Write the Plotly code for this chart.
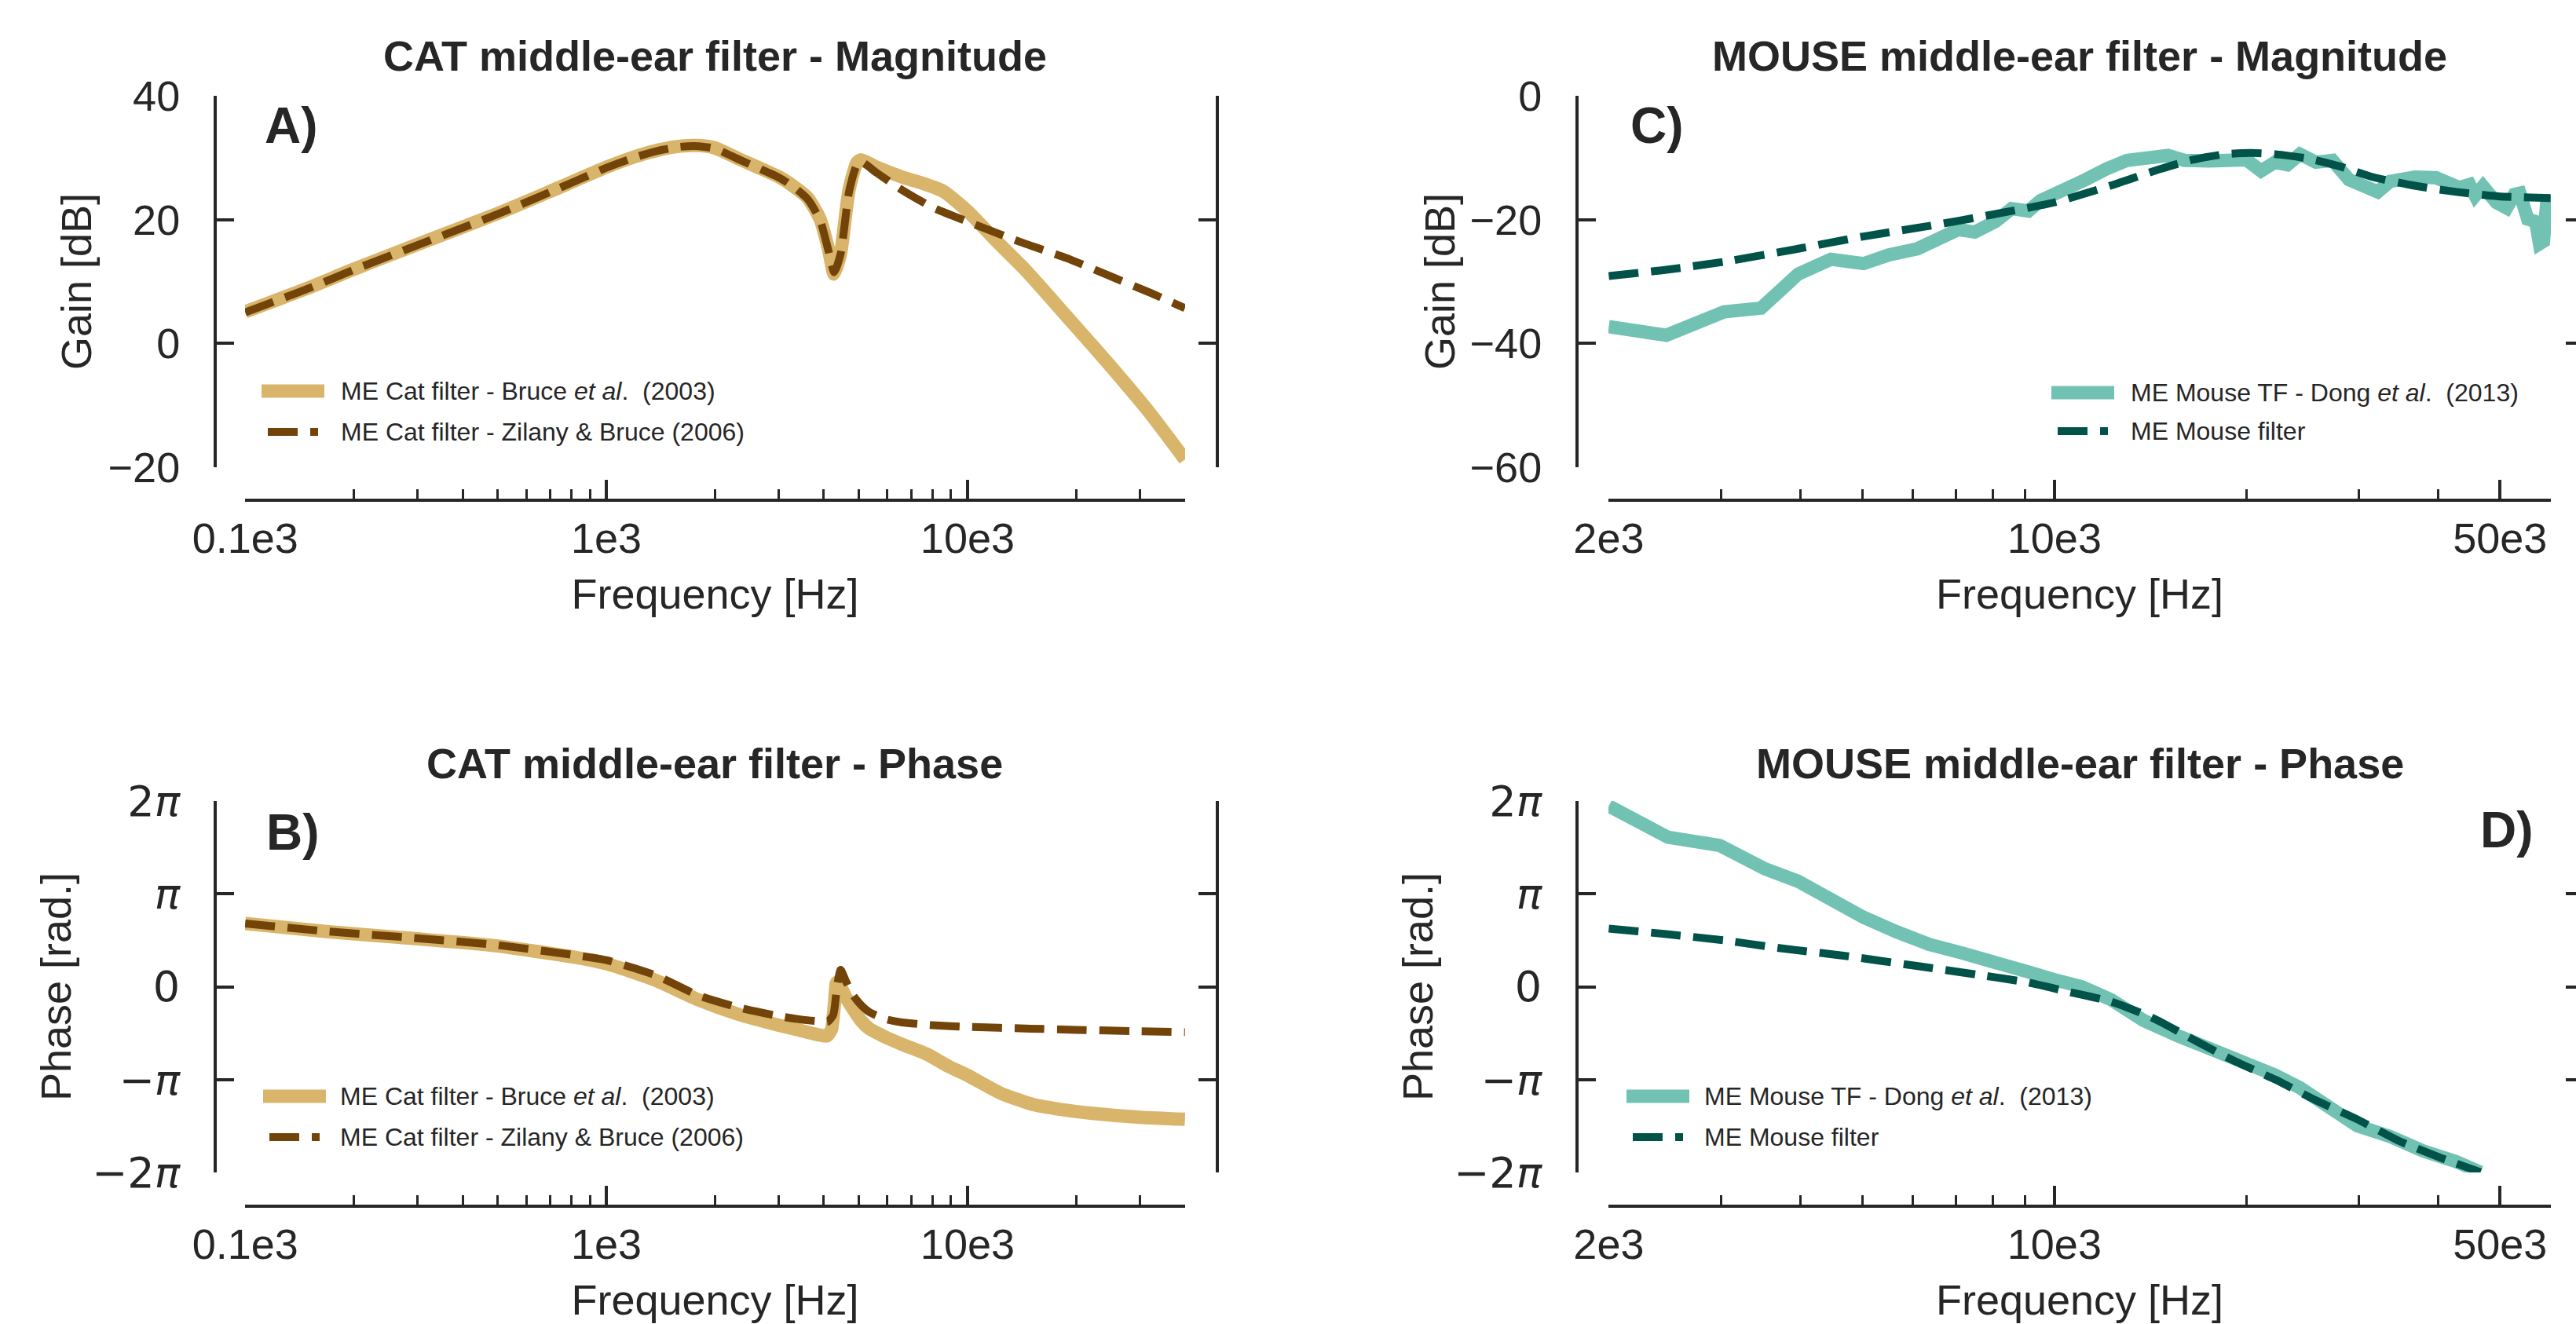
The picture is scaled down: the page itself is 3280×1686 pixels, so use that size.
import math
import plotly.graph_objects as go

W, H = 3280, 1686
PI = math.pi

# ---------------- data ----------------
# CAT magnitude (dB)
cat_bruce_mag_f = [100, 150, 200, 300, 500, 700, 1000, 1200, 1400, 1600, 1800, 2000, 2317, 2600,
                   3013, 3300, 3613, 3907, 4120, 4274, 4454, 4698, 4946, 5072, 5600, 6590, 7600,
                   8570, 10000, 12000, 14500, 18800, 24400, 31700, 40000]
cat_bruce_mag = [5.1, 9.0, 12.0, 16.0, 21.0, 24.6, 28.5, 30.2, 31.3, 31.9, 32.0, 31.6, 29.9, 28.6,
                 26.9, 25.4, 23.5, 20.1, 15.3, 11.2, 14.6, 24.8, 29.3, 29.7, 28.5, 26.9, 25.8,
                 24.6, 21.4, 16.6, 11.8, 4.4, -3.1, -11.0, -18.8]

cat_zb_mag_f = [100, 150, 200, 300, 500, 700, 1000, 1200, 1400, 1600, 1800, 2000, 2317, 2600,
                3013, 3300, 3613, 3907, 4120, 4274, 4454, 4698, 4946, 5072, 5600, 6590, 8000,
                10000, 14000, 18800, 25000, 32000, 40000]
cat_zb_mag = [5.0, 8.9, 11.9, 15.9, 20.9, 24.5, 28.4, 30.1, 31.2, 31.8, 31.9, 31.5, 29.8, 28.5,
              26.8, 25.3, 23.3, 19.9, 15.0, 11.5, 14.5, 24.5, 29.0, 29.4, 27.6, 24.8, 22.0,
              19.7, 16.4, 13.8, 10.8, 8.2, 5.7]

# CAT phase (rad)
cat_bruce_ph_f = [100, 170, 287, 484, 815, 1000, 1374, 1786, 2317, 3013, 3500, 3907, 4080, 4200,
                  4280, 4345, 4454, 4600, 4818, 5072, 5346, 5937, 6590, 7710, 8800, 10000, 12330,
                  15200, 18000, 21900, 30000, 40000]
cat_bruce_ph = [2.14, 1.86, 1.64, 1.40, 1.00, 0.78, 0.21, -0.43, -0.93, -1.31, -1.50, -1.64, -1.67,
                -1.45, -0.60, 0.15, 0.0, -0.35, -0.75, -1.15, -1.42, -1.71, -1.95, -2.28, -2.68,
                -3.00, -3.60, -3.99, -4.15, -4.28, -4.42, -4.49]

cat_zb_ph_f = [100, 170, 287, 484, 815, 1000, 1374, 1786, 2317, 3013, 3500, 3907, 4100, 4250,
               4350, 4454, 4600, 4818, 5072, 5346, 5937, 6590, 8000, 10000, 15000, 20000, 30000,
               40000]
cat_zb_ph = [2.14, 1.87, 1.66, 1.43, 1.07, 0.90, 0.38, -0.28, -0.70, -1.00, -1.12, -1.17, -1.19,
             -0.95, 0.0, 0.57, 0.20, -0.28, -0.62, -0.86, -1.10, -1.21, -1.30, -1.36, -1.42,
             -1.46, -1.51, -1.54]

# MOUSE magnitude (dB)
mouse_dong_mag_f = [2000, 2462, 3033, 3467, 3963, 4460, 5020, 5495, 6095, 6565, 7070, 7500, 8080,
                    8570, 9100, 9510, 10240, 11200, 12060, 13000, 15070, 15990, 17490, 19100,
                    20000, 21090, 22180, 23190, 24270, 25720, 27300, 28960, 30740, 32140, 33600,
                    36750, 39650, 41590, 43150, 44780, 45700, 47000, 49330, 51200, 52670, 53700,
                    55250, 56850, 57650, 58490, 59330]
mouse_dong_mag = [-37.3, -38.7, -34.9, -34.3, -28.8, -26.4, -27.1, -25.7, -24.7, -23.4, -21.6,
                  -22.0, -20.3, -18.2, -18.6, -16.9, -15.5, -13.5, -11.8, -10.4, -9.6, -10.4,
                  -10.5, -10.7, -10.3, -12.1, -10.7, -11.1, -9.4, -10.7, -10.4, -13.5, -14.5,
                  -15.5, -13.8, -13.1, -13.2, -14.1, -14.8, -14.3, -16.1, -14.6, -17.2, -18.1,
                  -15.9, -15.7, -19.9, -20.3, -23.9, -23.5, -15.9]

mouse_filt_mag_f = [2000, 2462, 3033, 3963, 5020, 6370, 7870, 10000, 12230, 14650, 16480, 18530,
                    20370, 22180, 24990, 28100, 31600, 36750, 42700, 49600, 60000]
mouse_filt_mag = [-29.1, -28.1, -26.8, -24.7, -22.7, -21.0, -19.3, -17.2, -14.5, -11.8, -10.3,
                  -9.4, -9.2, -9.4, -10.1, -11.4, -13.1, -14.5, -15.5, -16.2, -16.5]

# MOUSE phase (rad)
mouse_dong_ph_f = [2000, 2254, 2477, 2987, 3518, 3963, 4460, 5020, 5654, 6365, 7170, 8080, 9100,
                   10100, 11040, 12250, 13800, 15530, 17490, 19700, 22180, 24270, 26500, 29850,
                   33600, 37850, 42650, 46600]
mouse_dong_ph = [6.12, 5.56, 5.06, 4.78, 3.99, 3.57, 2.93, 2.35, 1.86, 1.43, 1.14, 0.86, 0.50,
                 0.21, 0.0, -0.43, -1.14, -1.64, -2.07, -2.57, -2.99, -3.42, -3.99, -4.71, -5.07,
                 -5.56, -5.92, -6.28]

mouse_filt_ph_f = [2000, 2462, 3033, 3700, 4750, 6050, 7620, 9100, 10360, 12250, 14300, 16480,
                   19100, 22180, 25720, 29850, 34630, 40200, 46600]
mouse_filt_ph = [1.97, 1.78, 1.57, 1.31, 1.03, 0.71, 0.40, 0.14, -0.14, -0.50, -1.07, -1.78,
                 -2.50, -3.14, -3.85, -4.49, -5.21, -5.78, -6.28]

# tick definitions
cat_xticks = [100, 1000, 10000]
cat_xticktext = ["0.1e3", "1e3", "10e3"]
cat_xminor = [200, 300, 400, 500, 600, 700, 800, 900, 2000, 3000, 4000, 5000, 6000, 7000, 8000,
              9000, 20000, 30000, 40000]
mouse_xticks = [2000, 10000, 50000]
mouse_xticktext = ["2e3", "10e3", "50e3"]
mouse_xminor = [3000, 4000, 5000, 6000, 7000, 8000, 9000, 20000, 30000, 40000, 60000]

cat_gain_ticks = [-20, 0, 20, 40]
cat_gain_text = ["\u221220", "0", "20", "40"]
mouse_gain_ticks = [-60, -40, -20, 0]
mouse_gain_text = ["\u221260", "\u221240", "\u221220", "0"]
phase_ticks = [-2 * PI, -PI, 0, PI, 2 * PI]
phase_text = ["\u22122<i>\u03c0</i>", "\u2212<i>\u03c0</i>", "0", "<i>\u03c0</i>", "2<i>\u03c0</i>"]

# ---------------- style ----------------
TXT = "#262626"
TAN = "#D9B56B"
BROWN = "#734409"
TEAL = "#72C2B4"
DKGREEN = "#01534A"
SANS = "Liberation Sans, Arial, sans-serif"
MATH = "DejaVu Sans, sans-serif"
FS = 54
DASH = "38px,16px"


def PX(x):
    return x / W


def PY(y):
    return 1 - y / H


fig = go.Figure()

panels = [
    dict(key="A", xa="x", ya="y", yr="y5", x0=312, x1=1509, yt=122, yb=595, ls=274, rs=1550, bs=637),
    dict(key="B", xa="x2", ya="y2", yr="y6", x0=312, x1=1509, yt=1020, yb=1493, ls=274, rs=1550, bs=1536),
    dict(key="C", xa="x3", ya="y3", yr="y7", x0=2048, x1=3248, yt=122, yb=595, ls=2008, rs=None, bs=637),
    dict(key="D", xa="x4", ya="y4", yr="y8", x0=2048, x1=3248, yt=1020, yb=1493, ls=2008, rs=None, bs=1536),
]

series = {
    "A": [(cat_bruce_mag_f, cat_bruce_mag, TAN, 17, "solid", "spline"),
          (cat_zb_mag_f, cat_zb_mag, BROWN, 10, DASH, "spline")],
    "B": [(cat_bruce_ph_f, cat_bruce_ph, TAN, 17, "solid", "spline"),
          (cat_zb_ph_f, cat_zb_ph, BROWN, 10, DASH, "spline")],
    "C": [(mouse_dong_mag_f, mouse_dong_mag, TEAL, 17, "solid", "linear"),
          (mouse_filt_mag_f, mouse_filt_mag, DKGREEN, 10, DASH, "spline")],
    "D": [(mouse_dong_ph_f, mouse_dong_ph, TEAL, 17, "solid", "linear"),
          (mouse_filt_ph_f, mouse_filt_ph, DKGREEN, 10, DASH, "spline")],
}

for p in panels:
    (f1, v1, c1, w1, d1, s1), (f2, v2, c2, w2, d2, s2) = series[p["key"]]
    fig.add_trace(go.Scatter(x=f1, y=v1, xaxis=p["xa"], yaxis=p["ya"], mode="lines",
                             line=dict(color=c1, width=w1, dash=d1, shape=s1, smoothing=0.6),
                             showlegend=False, hoverinfo="skip"))
    fig.add_trace(go.Scatter(x=f2, y=v2, xaxis=p["xa"], yaxis=p["yr"], mode="lines",
                             line=dict(color=c2, width=w2, dash=d2, shape=s2, smoothing=0.6),
                             showlegend=False, hoverinfo="skip"))

layout = dict(
    template="none",
    width=W, height=H, autosize=False,
    margin=dict(l=0, r=0, t=0, b=0, pad=0, autoexpand=False),
    paper_bgcolor="white", plot_bgcolor="white",
    font=dict(family=SANS, size=FS, color=TXT),
    showlegend=False,
)


def xaxis_cfg(p, is_cat):
    eps = 0.0005
    if is_cat:
        rng = [math.log10(100) - eps, math.log10(40000) + eps]
        tv, tt, mv = cat_xticks, cat_xticktext, cat_xminor
    else:
        rng = [math.log10(2000) - eps, math.log10(60000) + eps]
        tv, tt, mv = mouse_xticks, mouse_xticktext, mouse_xminor
    return dict(
        type="log", range=rng, domain=[PX(p["x0"]), PX(p["x1"])],
        anchor="free", position=PY(p["bs"]), automargin=False,
        tickmode="array", tickvals=tv, ticktext=tt,
        ticks="inside", ticklen=24, tickwidth=4, tickcolor=TXT,
        minor=dict(tickmode="array", tickvals=mv, ticks="inside", ticklen=12, tickwidth=3,
                   tickcolor=TXT, showgrid=False),
        showline=True, linewidth=4, linecolor=TXT, showgrid=False, zeroline=False,
        tickfont=dict(family=SANS, size=FS, color=TXT), ticklabelstandoff=0,
        title=dict(text="Frequency [Hz]", font=dict(family=SANS, size=FS, color=TXT), standoff=22),
        fixedrange=True,
    )


def yaxis_cfg(p, kind):
    if kind == "catgain":
        rng, tv, tt, fam = [-20.05, 40.05], cat_gain_ticks, cat_gain_text, SANS
        title, so = "Gain [dB]", 3
    elif kind == "mousegain":
        rng, tv, tt, fam = [-60.05, 0.05], mouse_gain_ticks, mouse_gain_text, SANS
        title, so = "Gain [dB]", 1
    else:
        rng, tv, tt, fam = [-2 * PI - 0.005, 2 * PI + 0.005], phase_ticks, phase_text, MATH
        title, so = "Phase [rad.]", 8
    left = dict(
        range=rng, domain=[PY(p["yb"]), PY(p["yt"])], anchor="free", position=PX(p["ls"]),
        automargin=False,
        tickmode="array", tickvals=tv, ticktext=tt,
        ticks="inside", ticklen=22, tickwidth=4, tickcolor=TXT,
        showline=True, linewidth=4, linecolor=TXT, showgrid=False, zeroline=False,
        tickfont=dict(family=fam, size=FS, color=TXT), ticklabelstandoff=32,
        title=dict(text=title, font=dict(family=SANS, size=FS, color=TXT), standoff=so),
        fixedrange=True,
    )
    right = dict(
        range=rng, overlaying=p["ya"], side="right", anchor="free",
        position=PX(p["rs"]) if p["rs"] else 1.0, automargin=False,
        tickmode="array", tickvals=tv, showticklabels=False,
        ticks="inside", ticklen=22 if p["rs"] else 13, tickwidth=4, tickcolor=TXT,
        showline=bool(p["rs"]), linewidth=4, linecolor=TXT, showgrid=False, zeroline=False,
        fixedrange=True,
    )
    return left, right


kinds = {"A": "catgain", "B": "phase", "C": "mousegain", "D": "phase"}
for p in panels:
    xname = "xaxis" + p["xa"][1:]
    yname = "yaxis" + p["ya"][1:]
    rname = "yaxis" + p["yr"][1:]
    layout[xname] = xaxis_cfg(p, p["key"] in ("A", "B"))
    l, r = yaxis_cfg(p, kinds[p["key"]])
    layout[yname] = l
    layout[rname] = r

fig.update_layout(**layout)

titles = [
    ("CAT middle-ear filter - Magnitude", 910, 71),
    ("MOUSE middle-ear filter - Magnitude", 2648, 71),
    ("CAT middle-ear filter - Phase", 910, 972),
    ("MOUSE middle-ear filter - Phase", 2648, 972),
]
for t, x, y in titles:
    fig.add_annotation(text="<b>%s</b>" % t, x=PX(x), y=PY(y), xref="paper", yref="paper",
                       xanchor="center", yanchor="middle", showarrow=False,
                       font=dict(family=SANS, size=FS, color=TXT))

letters = [("A)", 335, 160, "left"), ("B)", 337, 1060, "left"),
           ("C)", 2074, 160, "left"), ("D)", 3228, 1057, "right")]
for t, x, y, anc in letters:
    fig.add_annotation(text="<b>%s</b>" % t, x=PX(x), y=PY(y), xref="paper", yref="paper",
                       xanchor=anc, yanchor="middle", showarrow=False,
                       font=dict(family=SANS, size=64, color=TXT))

legends = [
    (333, 432, 498, "ME Cat filter - Bruce <i>et al</i>.\u00a0 (2003)", TAN, 17, "solid"),
    (341, 432, 550, "ME Cat filter - Zilany &amp; Bruce (2006)", BROWN, 10, DASH),
    (335, 431, 1396, "ME Cat filter - Bruce <i>et al</i>.\u00a0 (2003)", TAN, 17, "solid"),
    (343, 431, 1448, "ME Cat filter - Zilany &amp; Bruce (2006)", BROWN, 10, DASH),
    (2612, 2711, 500, "ME Mouse TF - Dong <i>et al</i>.\u00a0 (2013)", TEAL, 17, "solid"),
    (2620, 2711, 549, "ME Mouse filter", DKGREEN, 10, DASH),
    (2071, 2168, 1396, "ME Mouse TF - Dong <i>et al</i>.\u00a0 (2013)", TEAL, 17, "solid"),
    (2079, 2168, 1448, "ME Mouse filter", DKGREEN, 10, DASH),
]
for sx, tx, ry, label, col, lw, dash in legends:
    length = 80 if dash == "solid" else 64
    fig.add_shape(type="line", xref="paper", yref="paper", x0=PX(sx), x1=PX(sx + length),
                  y0=PY(ry), y1=PY(ry), line=dict(color=col, width=lw, dash=dash))
    fig.add_annotation(text=label, x=PX(tx), y=PY(ry), xref="paper", yref="paper",
                       xanchor="left", yanchor="middle", showarrow=False,
                       font=dict(family=SANS, size=32, color=TXT))

fig.write_html("out.html", config={"displayModeBar": False})
